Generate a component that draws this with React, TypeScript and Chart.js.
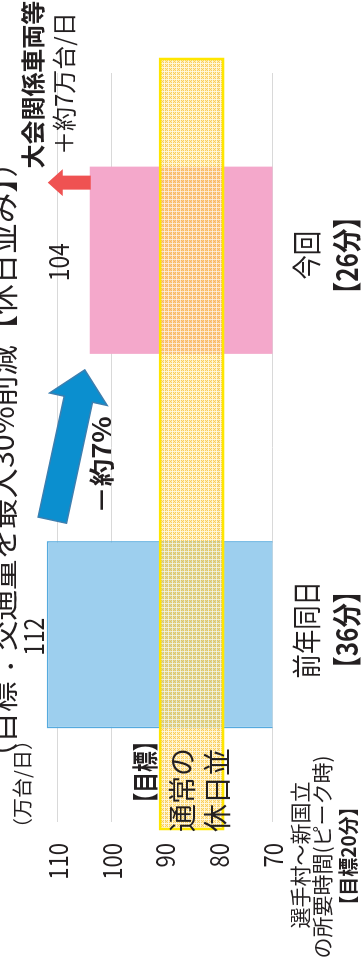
import React, { useEffect, useRef } from 'react';
import { Chart, registerables } from 'chart.js';
Chart.register(...registerables);

const categories = ['前年同日', '今回'];
const categoryTimes = ['【36分】', '【26分】'];
const volumes = [112, 104];
const targetBand = [79.2, 90.9];
const yTicks = [70, 80, 90, 100, 110];
const yMin = 70;
const yMax = 115;
const titleText = '（目標：交通量を最大30%削減【休日並み】）';
const unitLabel = '（万台/日）';
const changeLabel = '－約7%';
const extraLines = ['大会関係車両等', '＋約7万台/日'];
const targetLines = ['【目標】', '通常の', '休日並'];
const routeLines = ['選手村～新国立', 'の所要時間(ピーク時)', '【目標20分】'];

const FONT = '"Noto Sans CJK JP", "Noto Sans", sans-serif';
const INK = '#231f20';

function txt(ctx: any, s: string, x: number, y: number, size: number, o: any = {}) {
  ctx.save();
  ctx.translate(x, y);
  ctx.scale(o.sx ?? 1, 1);
  ctx.font = `${o.weight ?? 'normal'} ${size}px ${FONT}`;
  ctx.textAlign = o.align ?? 'center';
  ctx.textBaseline = o.baseline ?? 'middle';
  ctx.fillStyle = o.color ?? INK;
  ctx.fillText(s, 0, 0);
  ctx.restore();
}

function arrow(ctx: any, x0: number, y0: number, x1: number, y1: number, sw: number, hw: number, hl: number, fill: string, stroke: string | null) {
  const dx = x1 - x0, dy = y1 - y0;
  const len = Math.hypot(dx, dy);
  const ux = dx / len, uy = dy / len;
  const nx = -uy, ny = ux;
  const bx = x1 - ux * hl, by = y1 - uy * hl;
  const pts = [
    [x0 + nx * sw / 2, y0 + ny * sw / 2],
    [bx + nx * sw / 2, by + ny * sw / 2],
    [bx + nx * hw / 2, by + ny * hw / 2],
    [x1, y1],
    [bx - nx * hw / 2, by - ny * hw / 2],
    [bx - nx * sw / 2, by - ny * sw / 2],
    [x0 - nx * sw / 2, y0 - ny * sw / 2],
  ];
  ctx.save();
  ctx.beginPath();
  pts.forEach(([a, b], i) => (i ? ctx.lineTo(a, b) : ctx.moveTo(a, b)));
  ctx.closePath();
  ctx.fillStyle = fill;
  ctx.fill();
  if (stroke) {
    ctx.strokeStyle = stroke;
    ctx.lineWidth = 1.5;
    ctx.lineJoin = 'miter';
    ctx.stroke();
  }
  ctx.restore();
}

function makePattern(ctx: any) {
  const c = document.createElement('canvas');
  c.width = 4;
  c.height = 4;
  const p = c.getContext('2d')!;
  p.fillStyle = 'rgba(255,220,105,0.52)';
  p.fillRect(0, 0, 4, 4);
  p.fillStyle = 'rgba(255,252,240,0.6)';
  p.fillRect(0, 0, 4, 1);
  p.fillRect(0, 0, 1, 4);
  p.fillStyle = 'rgba(248,188,55,0.68)';
  [[1, 1], [3, 1], [2, 2], [1, 3], [3, 3]].forEach(([a, b]) => p.fillRect(a, b, 1, 1));
  return ctx.createPattern(c, 'repeat');
}

const overlay = {
  id: 'overlay',
  afterDatasetsDraw(chart: any) {
    const { ctx, chartArea, scales } = chart;
    const y = scales.y;
    const top = y.getPixelForValue(targetBand[1]);
    const bot = y.getPixelForValue(targetBand[0]);
    const l = chartArea.left - 7;
    const r = chartArea.right + 14;
    ctx.save();
    ctx.fillStyle = makePattern(ctx);
    ctx.fillRect(l, top, r - l, bot - top);
    ctx.strokeStyle = '#ffe600';
    ctx.lineWidth = 2.5;
    ctx.strokeRect(l, top, r - l, bot - top);
    ctx.restore();
  },
  afterDraw(chart: any) {
    const { ctx, chartArea, scales } = chart;
    const y = scales.y;
    const bars = chart.getDatasetMeta(0).data;
    const b0 = bars[0], b1 = bars[1];
    const w0 = b0.width / 2, w1 = b1.width / 2;

    // y tick labels
    yTicks.forEach((v) => {
      txt(ctx, String(v), chartArea.left - 21, y.getPixelForValue(v), 27, { align: 'right', sx: 0.82 });
    });
    // unit label
    txt(ctx, unitLabel, chartArea.left + 38, 22, 20);
    // title (partly clipped by the top edge)
    txt(ctx, titleText, 500, 2, 30.5);

    // data labels
    const offs = [3, 21];
    bars.forEach((b: any, i: number) => {
      txt(ctx, String(volumes[i]), b.x - 2, b.y - offs[i], 28, { baseline: 'alphabetic', sx: 0.82 });
    });

    // category labels
    bars.forEach((b: any, i: number) => {
      txt(ctx, categories[i], b.x + 5, chartArea.bottom + 34, 29, { sx: 0.84 });
      txt(ctx, categoryTimes[i], b.x + 5, chartArea.bottom + 74, 29, { weight: 'bold', sx: 0.84 });
    });

    // blue arrow
    arrow(ctx, b0.x + w0 + 21, b0.y + 5.5, b1.x - w1 - 16, b1.y - 5, 29, 59, 30, '#0b8fcf', '#3c7fb0');
    txt(ctx, changeLabel, 495, 101, 25, { weight: 'bold', sx: 1.1 });

    // red arrow
    const rx = b1.x + w1 - 16;
    arrow(ctx, rx, b1.y + 1, rx, b1.y - 42, 14, 27, 15, '#ef5252', null);
    txt(ctx, extraLines[0], rx + 98, 33, 24, { weight: 'bold' });
    txt(ctx, extraLines[1], rx + 99, 64, 24);

    // target labels
    txt(ctx, targetLines[0], chartArea.left + 50, 145, 26, { weight: 'bold', sx: 0.8 });
    txt(ctx, targetLines[1], chartArea.left + 32, 182, 28);
    txt(ctx, targetLines[2], chartArea.left + 32, 217, 28);

    // route labels
    txt(ctx, routeLines[0], 105, 300, 21);
    txt(ctx, routeLines[1], 103, 322, 21);
    txt(ctx, routeLines[2], 104, 348, 20, { weight: 'bold', sx: 0.95 });
  },
};

export default function App() {
  const ref = useRef<HTMLCanvasElement>(null);
  useEffect(() => {
    const chart = new Chart(ref.current!, {
      type: 'bar',
      data: {
        labels: categories,
        datasets: [
          {
            data: volumes,
            backgroundColor: ['#9dcfee', '#f4a8cb'],
            borderColor: ['#55aade', '#f4a8cb'],
            borderWidth: [1.5, 0],
            borderSkipped: 'start',
            barPercentage: 0.5,
            categoryPercentage: 1,
          },
        ],
      },
      options: {
        responsive: false,
        animation: false,
        devicePixelRatio: 1,
        layout: { padding: { left: 138, right: 73, top: 30.625, bottom: 90.5 } },
        plugins: { legend: { display: false }, tooltip: { enabled: false }, title: { display: false } },
        scales: {
          x: { display: false },
          y: {
            min: yMin,
            max: yMax,
            afterBuildTicks: (s: any) => {
              s.ticks = yTicks.map((v) => ({ value: v }));
            },
            ticks: { display: false },
            grid: { color: '#d9d9d9', lineWidth: 1, drawTicks: false },
            border: { display: false },
          },
        },
      },
      plugins: [overlay],
    } as any);
    return () => chart.destroy();
  }, []);
  return (
    <div style={{ position: 'fixed', left: 0, top: 0, width: 363, height: 960, overflow: 'hidden', background: '#fff' }}>
      <div
        style={{
          position: 'absolute',
          left: 0,
          top: 0,
          width: 960,
          height: 363,
          transformOrigin: '0 0',
          transform: 'translate(0px, 960px) rotate(-90deg)',
        }}
      >
        <canvas ref={ref} width={960} height={363} style={{ display: 'block', width: 960, height: 363 }} />
      </div>
    </div>
  );
}
